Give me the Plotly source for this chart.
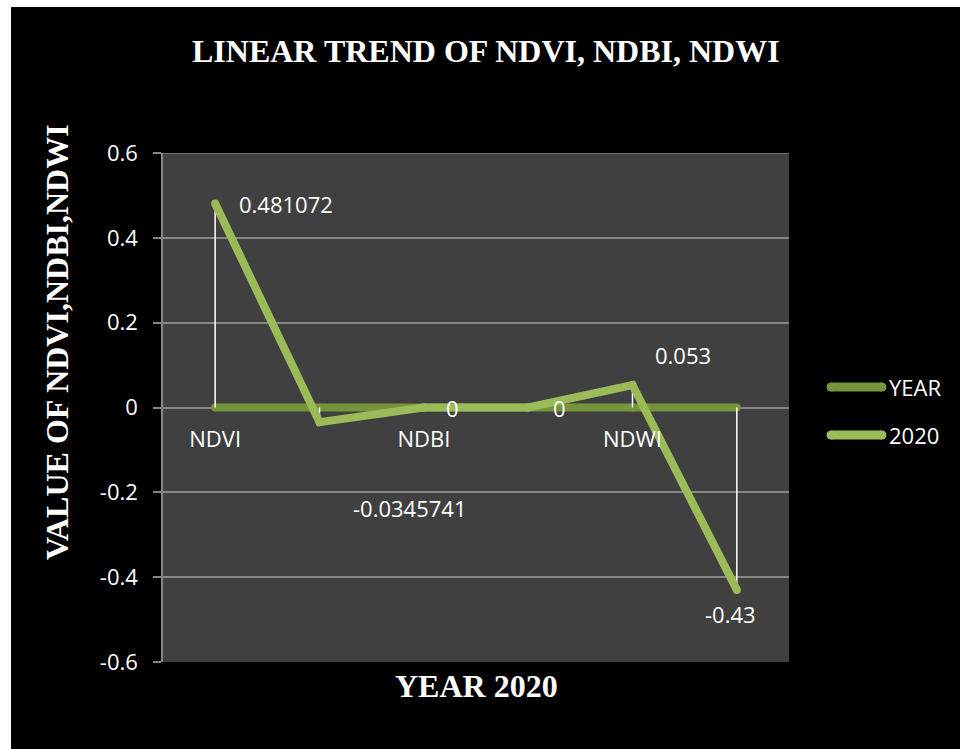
import plotly.graph_objects as go

# Chart data
categories = ["NDVI", "", "NDBI", "", "NDWI", ""]
series_names = ["YEAR", "2020"]
year_values = [0, 0, 0, 0, 0, 0]
values_2020 = [0.481072, -0.0345741, 0, 0, 0.053, -0.43]
y_ticks = [-0.6, -0.4, -0.2, 0, 0.2, 0.4, 0.6]
y_tick_labels = ["-0.6", "-0.4", "-0.2", "0", "0.2", "0.4", "0.6"]

# Layout geometry (pixels)
W, H = 960, 749
ML, MR, MT, MB = 163, 171, 153, 87
PW, PH = W - ML - MR, H - MT - MB


def px(x):
    return (x - ML) / PW


def py(y):
    return (H - MB - y) / PH


YEAR_COLOR = "#77933C"
C2020_COLOR = "#9BBB59"
GRID_COLOR = "#868686"
SANS = "Open Sans"
SERIF = "Liberation Serif"

xs = list(range(len(categories)))

fig = go.Figure()

# YEAR series
fig.add_trace(go.Scatter(
    x=xs, y=year_values, mode="lines+markers", name=series_names[0],
    line=dict(color=YEAR_COLOR, width=8),
    marker=dict(color=YEAR_COLOR, size=8),
    showlegend=False, hoverinfo="skip",
))

# High-low lines between the two series
hl_x, hl_y = [], []
for i, (a, b) in enumerate(zip(year_values, values_2020)):
    if a != b:
        hl_x += [i, i, None]
        hl_y += [min(a, b), max(a, b), None]
fig.add_trace(go.Scatter(
    x=hl_x, y=hl_y, mode="lines",
    line=dict(color="white", width=1.5),
    showlegend=False, hoverinfo="skip",
))

# 2020 series
fig.add_trace(go.Scatter(
    x=xs, y=values_2020, mode="lines+markers", name=series_names[1],
    line=dict(color=C2020_COLOR, width=8),
    marker=dict(color=C2020_COLOR, size=8),
    showlegend=False, hoverinfo="skip",
))

annotations = []

# Data labels for the 2020 series (pixel offsets from each point)
label_offsets = [(22, -1, "left"), (90, -86, "center"), (29, 0, "center"),
                 (31, 0, "center"), (50, 30, "center"), (-6, -24, "center")]
for i, v in enumerate(values_2020):
    dx, dy, anchor = label_offsets[i]
    annotations.append(dict(
        x=i, y=v, xref="x", yref="y", text=f"{v:g}", showarrow=False,
        xshift=dx, yshift=dy, xanchor=anchor, yanchor="middle",
        font=dict(family=SANS, size=22, color="white"),
    ))

# Titles
annotations.append(dict(
    x=px(486), y=py(51), xref="paper", yref="paper",
    text="<b>LINEAR TREND OF NDVI, NDBI, NDWI</b>", showarrow=False,
    xanchor="center", yanchor="middle",
    font=dict(family=SERIF, size=32, color="white"),
))
annotations.append(dict(
    x=px(57), y=py(342), xref="paper", yref="paper",
    text="<b>VALUE OF NDVI,NDBI,NDWI</b>", showarrow=False, textangle=-90,
    xanchor="center", yanchor="middle",
    font=dict(family=SERIF, size=32, color="white"),
))
annotations.append(dict(
    x=px(476), y=py(686), xref="paper", yref="paper",
    text="<b>YEAR 2020</b>", showarrow=False,
    xanchor="center", yanchor="middle",
    font=dict(family=SERIF, size=32, color="white"),
))

shapes = []

# Gridline along the top edge of the value range
shapes.append(dict(
    type="line", xref="paper", yref="y",
    x0=0, x1=1, y0=y_ticks[-1], y1=y_ticks[-1],
    line=dict(color=GRID_COLOR, width=1.5), layer="below",
))

# Legend
legend_rows = [(series_names[0], YEAR_COLOR, 387), (series_names[1], C2020_COLOR, 435)]
for name, color, yy in legend_rows:
    shapes.append(dict(
        type="line", xref="paper", yref="paper",
        x0=px(831), x1=px(882), y0=py(yy), y1=py(yy),
        line=dict(color=color, width=9),
    ))
    for cx in (831, 882):
        shapes.append(dict(
            type="circle", xref="paper", yref="paper",
            x0=px(cx - 4.5), x1=px(cx + 4.5), y0=py(yy + 4.5), y1=py(yy - 4.5),
            fillcolor=color, line=dict(width=0),
        ))
    annotations.append(dict(
        x=px(887), y=py(yy), xref="paper", yref="paper", text=name,
        showarrow=False, xanchor="left", yanchor="middle",
        font=dict(family=SANS, size=22, color="white"),
    ))

# White page edge along the top and left
shapes.append(dict(type="rect", xref="paper", yref="paper",
                   x0=px(0), x1=px(11), y0=py(0), y1=py(H),
                   fillcolor="white", line=dict(width=0), layer="above"))
shapes.append(dict(type="rect", xref="paper", yref="paper",
                   x0=px(0), x1=px(W), y0=py(0), y1=py(7),
                   fillcolor="white", line=dict(width=0), layer="above"))

fig.update_layout(
    width=W, height=H,
    margin=dict(l=ML, r=MR, t=MT, b=MB, pad=0),
    paper_bgcolor="black",
    plot_bgcolor="#404040",
    showlegend=False,
    annotations=annotations,
    shapes=shapes,
    xaxis=dict(
        range=[-0.5, len(categories) - 0.5],
        tickvals=xs, ticktext=categories,
        showgrid=False, zeroline=False, showline=False, ticks="",
        anchor="free", position=0.5,
        tickfont=dict(family=SANS, size=22, color="white"),
        ticklabelstandoff=16,
        fixedrange=True,
    ),
    yaxis=dict(
        range=[y_ticks[0], y_ticks[-1]],
        tickvals=y_ticks, ticktext=y_tick_labels,
        showgrid=True, gridcolor=GRID_COLOR, gridwidth=1.5,
        zeroline=False, showline=True, linecolor=GRID_COLOR, linewidth=1.5,
        ticks="outside", ticklen=8, tickcolor=GRID_COLOR, tickwidth=1.5,
        tickfont=dict(family=SANS, size=22, color="white"),
        ticklabelstandoff=11,
        fixedrange=True,
    ),
)

fig.write_html("out.html")
